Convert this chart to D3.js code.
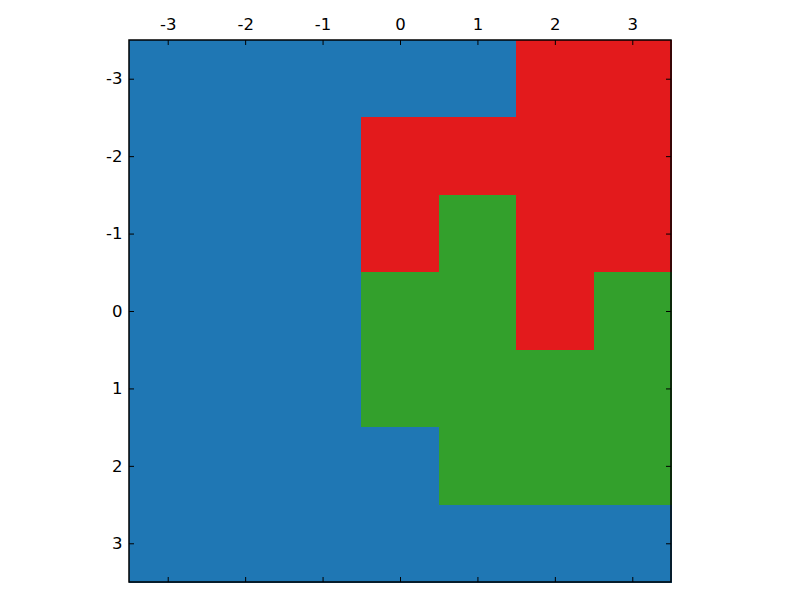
<!DOCTYPE html>
<html><head><meta charset="utf-8">
<script src="https://cdn.jsdelivr.net/npm/d3@7"></script>
<style>body{margin:0;background:#fff}svg{display:block}text{font-family:"DejaVu Sans",sans-serif;font-size:16.5px;fill:#000}</style>
</head><body>
<svg id="c" width="800" height="600"></svg>
<script>
const cols = [-3,-2,-1,0,1,2,3];
const rows = [-3,-2,-1,0,1,2,3];
// 0 = blue, 1 = green, 2 = red
const grid = [
  [0,0,0,0,0,2,2],
  [0,0,0,2,2,2,2],
  [0,0,0,2,1,2,2],
  [0,0,0,1,1,2,1],
  [0,0,0,1,1,1,1],
  [0,0,0,0,1,1,1],
  [0,0,0,0,0,0,0]
];
const palette = ["#1f77b4","#33a02c","#e31a1c"];

const L=129, T=40, R=671, B=582;
const svg=d3.select("#c");
const x=d3.scaleLinear().domain([-3.5,3.5]).range([L,R]);
const y=d3.scaleLinear().domain([-3.5,3.5]).range([T,B]);
const color=d3.scaleOrdinal().domain([0,1,2]).range(palette);

const cells=[];
rows.forEach((r,i)=>cols.forEach((c,j)=>cells.push({r,c,v:grid[i][j]})));
svg.append("g").selectAll("rect").data(cells).join("rect")
  .attr("x",d=>x(d.c-0.5)).attr("y",d=>y(d.r-0.5))
  .attr("width",d=>x(d.c+0.5)-x(d.c-0.5)+0.5).attr("height",d=>y(d.r+0.5)-y(d.r-0.5)+0.5)
  .attr("fill",d=>color(d.v)).attr("shape-rendering","crispEdges");

const fmt=d=>d<0?"-"+Math.abs(d):String(d);
const axTop=svg.append("g").attr("transform",`translate(0,${T})`).call(d3.axisTop(x).tickValues(cols).tickFormat(fmt).tickSizeInner(-5).tickSizeOuter(0).tickPadding(10));
const axBot=svg.append("g").attr("transform",`translate(0,${B})`).call(d3.axisBottom(x).tickValues(cols).tickFormat("").tickSizeInner(-5).tickSizeOuter(0));
const axLeft=svg.append("g").attr("transform",`translate(${L},0)`).call(d3.axisLeft(y).tickValues(rows).tickFormat(fmt).tickSizeInner(-5).tickSizeOuter(0).tickPadding(6.5));
const axRight=svg.append("g").attr("transform",`translate(${R},0)`).call(d3.axisRight(y).tickValues(rows).tickFormat("").tickSizeInner(-5).tickSizeOuter(0));
[axTop,axBot,axLeft,axRight].forEach(g=>{g.select(".domain").remove();g.selectAll("text").attr("font-size",16.5).attr("font-family","DejaVu Sans").attr("fill","#000");g.selectAll("line").attr("stroke","#000");});
svg.append("rect").attr("x",L).attr("y",T).attr("width",R-L).attr("height",B-T).attr("fill","none").attr("stroke","#000").attr("stroke-width",1.5);
</script>
</body></html>
